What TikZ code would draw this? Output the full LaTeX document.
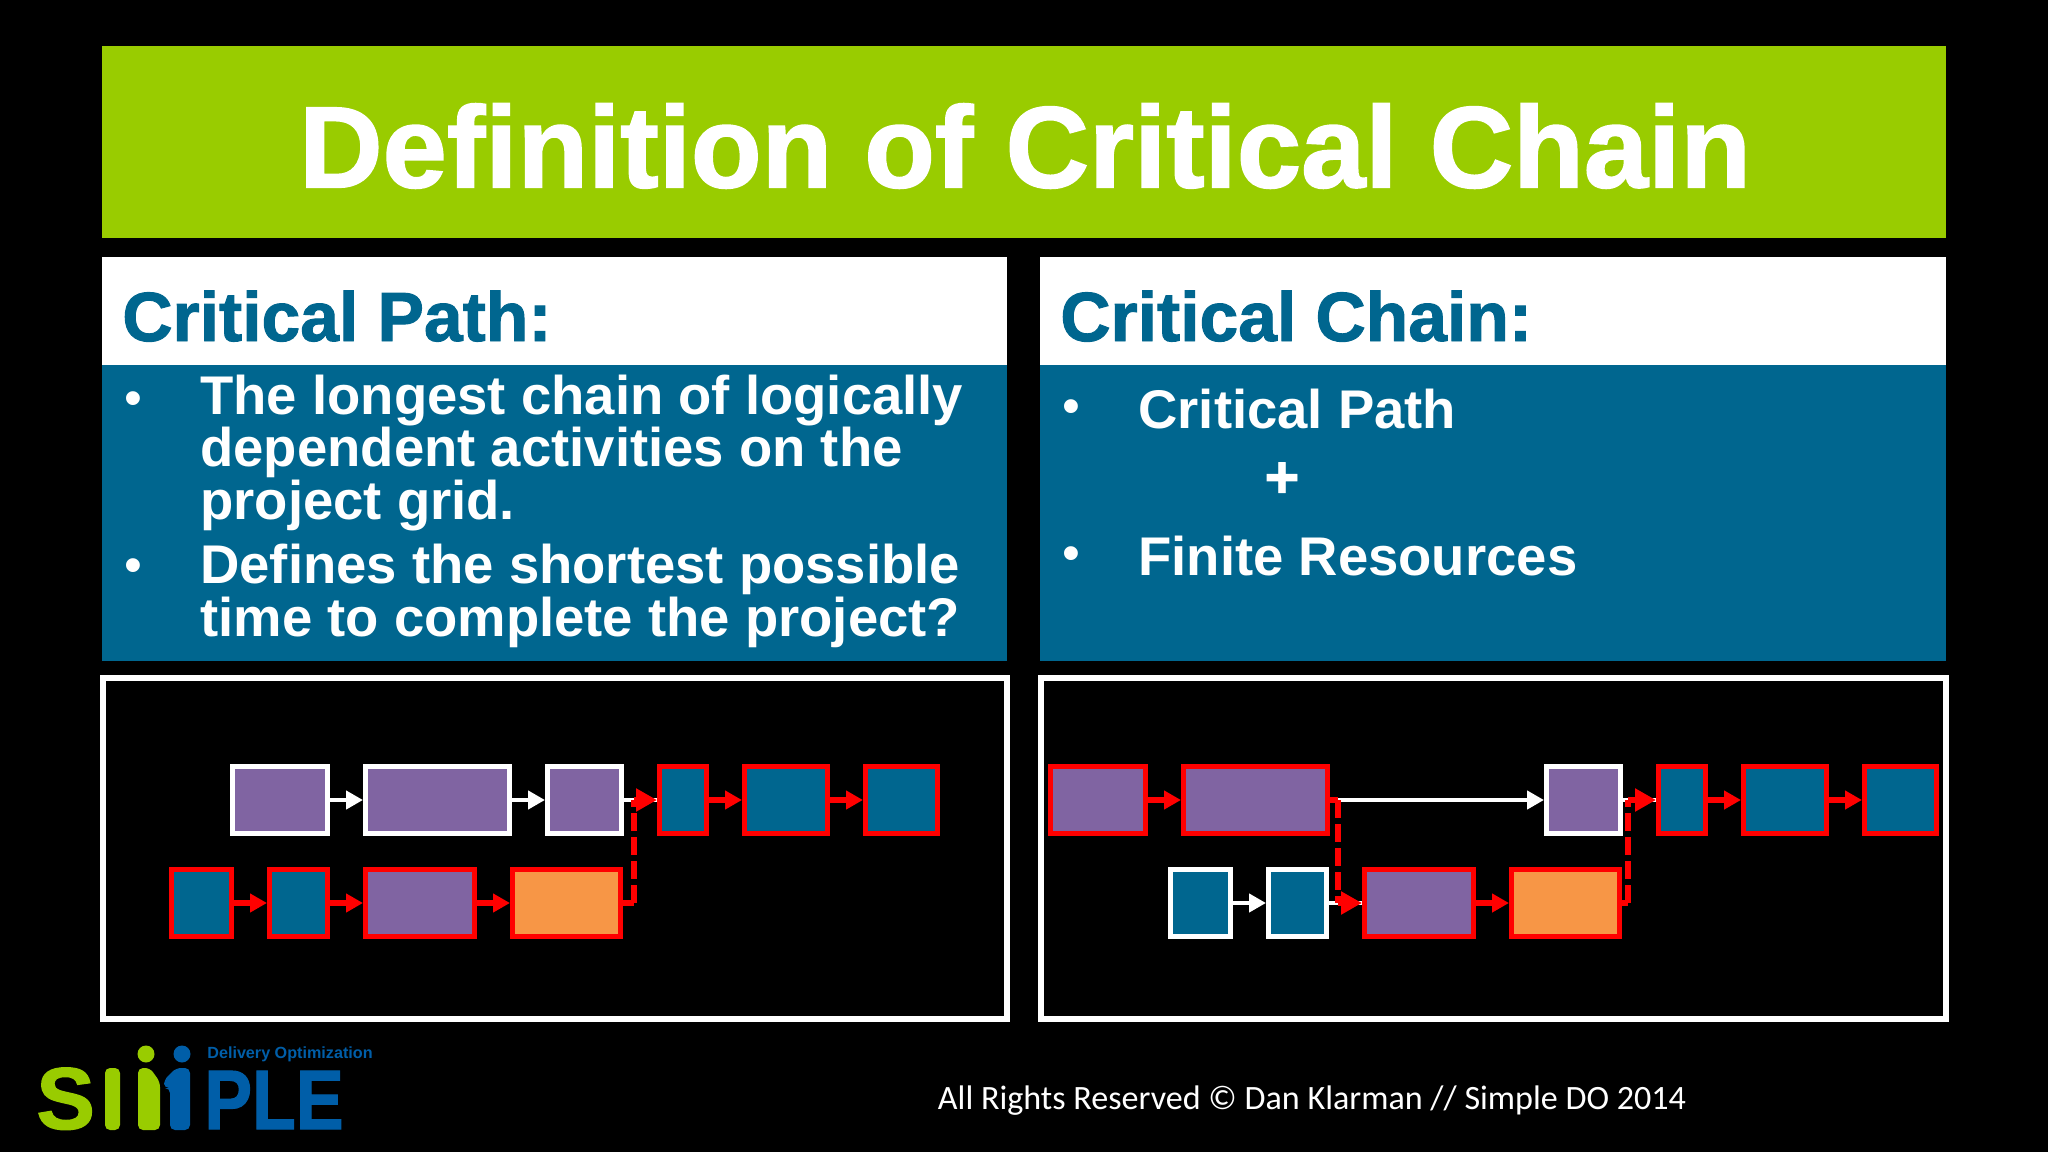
\documentclass[tikz,border=0pt]{standalone}
\usepackage{fontspec}
\setmainfont{Liberation Sans}[Ligatures=NoCommon]
\newfontfamily\bodyfont{Liberation Sans Bold}[Ligatures=NoCommon]
\newfontfamily\headfont{Liberation Sans Bold}[FakeBold=1.4,Ligatures=NoCommon]
\newfontfamily\footfont{Carlito}
\usetikzlibrary{arrows.meta,positioning}
\definecolor{slidegreen}{RGB}{153,204,0}
\definecolor{slideblue}{RGB}{0,102,143}
\definecolor{boxpurple}{RGB}{128,100,162}
\definecolor{boxorange}{RGB}{247,150,70}
\definecolor{logoblue}{RGB}{0,94,168}
\definecolor{logogreen}{RGB}{153,204,0}
\tikzset{
	taskbox/.style={draw, line width=1mm, minimum height=13.4mm, inner sep=0pt, outer sep=.5mm},
	bluewhite/.style={taskbox, draw=white, fill=slideblue},
	bluered/.style={taskbox, draw=red, fill=slideblue},
	purplewhite/.style={taskbox, draw=white, fill=boxpurple},
	purplered/.style={taskbox, draw=red, fill=boxpurple},
	orangered/.style={taskbox, draw=red, fill=boxorange},
	wd/.style={minimum width=#1*.2mm},
	whiteline/.style={draw=white, line width=.95mm},
	redline/.style={draw=red, line width=1.1mm},
	whitearrow/.style={whiteline, -{Triangle[length=3.4mm, width=3.6mm]}},
	redarrow/.style={redline, -{Triangle[length=3.4mm, width=3.6mm]}},
	bigarrow/.style={redline, -{Triangle[length=4.2mm, width=4.4mm]}},
	gapline/.style={redline, dash pattern=on 3.6mm off 1.2mm},
	frame/.style={draw=white, line width=1.1mm, fill=black},
	headline/.style={anchor=base west, inner sep=0pt, text=slideblue, font=\headfont\fontsize{39.6}{44}\selectfont},
	bodyline/.style={anchor=base west, inner sep=0pt, text=white, align=left, font=\bodyfont\fontsize{31}{29.6}\selectfont},
	dotmark/.style={inner sep=0pt, text=white, font=\fontsize{29}{29}\selectfont},
}
\begin{document}
\begin{tikzpicture}[x=.2mm, y=-.2mm, node distance=6.6mm and 6.6mm]
	\fill[black] (0,0) rectangle (2048,1152);
	\useasboundingbox (0,0) rectangle (2048,1152);

	% Panels
	\fill[slidegreen] (102,46) rectangle (1946,238);
	\node[text=white, font=\headfont\fontsize{65.8}{68}\selectfont] (title) at (1025,146) {Definition of Critical Chain};
	\fill[white] (102,257) rectangle (1007,365);
	\fill[slideblue] (102,365) rectangle (1007,661);
	\fill[white] (1040,257) rectangle (1946,365);
	\fill[slideblue] (1040,365) rectangle (1946,661);
	\draw[frame] (103,678) rectangle (1007,1019);
	\draw[frame] (1041,678) rectangle (1946,1019);

	% Text
	\node[headline] (pathhead) at (122,341) {Critical Path:};
	\node[headline] (chainhead) at (1060,341) {Critical Chain:};
	\node[dotmark] (bulleta) at (133,404) {•};
	\node[dotmark] (bulletb) at (133,571) {•};
	\node[bodyline] (patha) at (200,519) {The longest chain of logically\\dependent activities on the\\project grid.};
	\node[bodyline] (pathb) at (200,636) {Defines the shortest possible\\time to complete the project?};
	\node[dotmark] (bulletc) at (1071,412) {•};
	\node[dotmark] (bulletd) at (1071,559) {•};
	\node[bodyline] (chaina) at (1138,428) {Critical Path};
	\node[inner sep=0pt, text=white, font=\headfont\fontsize{34}{34}\selectfont] (plus) at (1282,480) {+};
	\node[bodyline] (chainb) at (1138,575) {Finite Resources};
	\node[text=white, font=\footfont\fontsize{19.4}{20}\selectfont] (rights) at (1312,1101) {All Rights Reserved © Dan Klarman // Simple DO 2014};

	% Nodes, critical path
	\node[purplewhite, wd=95, anchor=west] (pa) at (230,800) {};
	\node[purplewhite, wd=144, right=of pa] (pb) {};
	\node[purplewhite, wd=74, right=of pb] (pc) {};
	\node[bluered, wd=47, right=of pc] (pd) {};
	\node[bluered, wd=83, right=of pd] (pe) {};
	\node[bluered, wd=72, right=of pe] (pf) {};
	\node[bluered, wd=60, anchor=west] (qa) at (169,903) {};
	\node[bluered, wd=58, right=of qa] (qb) {};
	\node[purplered, wd=109, right=of qb] (qc) {};
	\node[orangered, wd=108, right=of qc] (qd) {};
	\coordinate (pjog) at (634,800);

	% Nodes, critical chain
	\node[purplered, wd=95, anchor=west] (ra) at (1048,800) {};
	\node[purplered, wd=144, right=of ra] (rb) {};
	\node[purplewhite, wd=74, anchor=west] (rc) at (1544,800) {};
	\node[bluered, wd=47, right=of rc] (rd) {};
	\node[bluered, wd=83, right=of rd] (re) {};
	\node[bluered, wd=72, right=of re] (rf) {};
	\node[bluewhite, wd=60, anchor=west] (sa) at (1168,903) {};
	\node[bluewhite, wd=58, right=of sa] (sb) {};
	\node[purplered, wd=109, right=of sb] (sc) {};
	\node[orangered, wd=108, right=of sc] (sd) {};
	\coordinate (rjog) at (1338,800);
	\coordinate (sjog) at (1628,800);

	% Edges, critical path
	\draw[whitearrow] (pa) -- (pb);
	\draw[whitearrow] (pb) -- (pc);
	\draw[whiteline] (pc) -- (pd);
	\draw[redarrow] (pd) -- (pe);
	\draw[redarrow] (pe) -- (pf);
	\draw[redarrow] (qa) -- (qb);
	\draw[redarrow] (qb) -- (qc);
	\draw[redarrow] (qc) -- (qd);
	\draw[redline] (qd.east) -- (qd.east -| pjog);
	\draw[gapline] (qd.east -| pjog) -- (pjog);
	\draw[bigarrow] (pjog) -- (pd);

	% Edges, critical chain
	\draw[redarrow] (ra) -- (rb);
	\draw[whitearrow] (rb) -- (rc);
	\draw[whiteline] (rc) -- (rd);
	\draw[redarrow] (rd) -- (re);
	\draw[redarrow] (re) -- (rf);
	\draw[whitearrow] (sa) -- (sb);
	\draw[whiteline] (sb) -- (sc);
	\draw[redarrow] (sc) -- (sd);
	\draw[redline] (rb.east) -- (rjog);
	\draw[gapline] (rjog) -- (rjog |- sc);
	\draw[bigarrow] (rjog |- sc) -- (sc);
	\draw[redline] (sd.east) -- (sd.east -| sjog);
	\draw[gapline] (sd.east -| sjog) -- (sjog);
	\draw[bigarrow] (sjog) -- (rd);

	% Logo
	\node[anchor=base west, inner sep=0pt, text=logogreen, font=\headfont\fontsize{50}{50}\selectfont] (logos) at (36,1129) {S};
	\fill[logogreen, rounded corners=1mm] (105,1068) rectangle (120,1130);
	\fill[logogreen, rounded corners=1mm] (138,1068) -- (150,1068) -- (160,1082) -- (160,1130) -- (138,1130) -- cycle;
	\fill[logogreen] (146,1054) circle (8.5);
	\fill[logoblue, rounded corners=1mm] (164,1080) -- (176,1068) -- (190,1068) -- (190,1130) -- (170,1130) -- (170,1088) -- (164,1088) -- cycle;
	\fill[logoblue] (182,1054) circle (8.5);
	\node[anchor=base west, inner sep=0pt, text=logoblue, xscale=.85, transform shape, font=\headfont\fontsize{48}{48}\selectfont] (logop) at (204,1129) {PLE};
	\node[anchor=west, inner sep=0pt, text=logoblue, font=\bodyfont\fontsize{9.2}{10}\selectfont] (logot) at (207,1054) {Delivery Optimization};
\end{tikzpicture}
\end{document}
